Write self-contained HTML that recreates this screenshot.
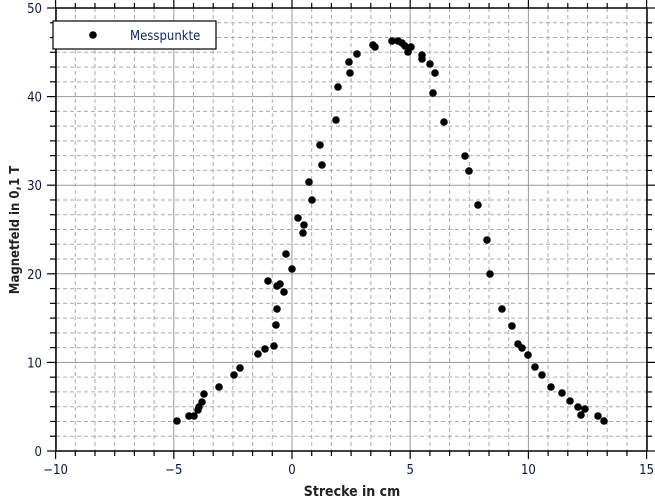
<!DOCTYPE html>
<html><head><meta charset="utf-8"><style>
body{margin:0;background:#fff}
svg{display:block;font-family:"DejaVu Sans Condensed","DejaVu Sans","Liberation Sans",sans-serif}
</style></head><body>
<svg width="655" height="499" viewBox="0 0 655 499" xmlns="http://www.w3.org/2000/svg">
<g id="grid"></g>
<rect x="56" y="8" width="591" height="443" fill="none" stroke="#000" stroke-width="1.5"/>
<g id="ticks" stroke="#000" stroke-width="1.2"></g>
<g id="labels" font-size="13" fill="#0a1a3a"></g>
<rect x="53" y="21" width="163" height="28" fill="#fff" stroke="#000" stroke-width="1.2"/>
<circle cx="93" cy="35" r="3.8" fill="#000"/>
<text x="130" y="40" font-size="13" fill="#0a2a5a">Messpunkte</text>
<g id="pts" fill="#000"></g>
<text x="352" y="496" font-size="14" font-weight="bold" text-anchor="middle" fill="#222">Strecke in cm</text>
<text transform="translate(19,230) rotate(-90)" font-size="13" font-weight="bold" text-anchor="middle" fill="#222">Magnetfeld in 0,1 T</text>
</svg>
<script>
const ns="http://www.w3.org/2000/svg";
function el(p,t,a,txt){const e=document.createElementNS(ns,t);for(const k in a)e.setAttribute(k,a[k]);if(txt!==undefined)e.textContent=txt;document.getElementById(p).appendChild(e);}
const X=v=>292+v*23.64, Y=v=>451-v*8.86;
for(let i=0;i<=30;i++){const v=-10+i*5/6,x=X(v);const maj=i%6==0;
 el("grid","line",{x1:x,y1:8,x2:x,y2:451,stroke:maj?"#999":"#aaa","stroke-dasharray":maj?"":"4,3","stroke-width":1});
 el("ticks","line",{x1:x,y1:451,x2:x,y2:maj?459:456});
 el("ticks","line",{x1:x,y1:8,x2:x,y2:maj?0:3});
 if(maj)el("labels","text",{x:x,y:474,"text-anchor":"middle"},String(v).replace("-","\u2212"));}
for(let i=0;i<=30;i++){const v=i*10/6,y=Y(v);const maj=i%6==0;
 el("grid","line",{x1:56,y1:y,x2:647,y2:y,stroke:maj?"#999":"#aaa","stroke-dasharray":maj?"":"4,3","stroke-width":1});
 el("ticks","line",{x1:56,y1:y,x2:maj?47:50,y2:y});
 el("ticks","line",{x1:647,y1:y,x2:maj?655:652,y2:y});
 if(maj)el("labels","text",{x:42,y:y+5,"text-anchor":"end"},String(Math.round(v)));}
const P=[[177,421],[189,416],[194,416],[198,410],[199,407],[202,402],[204,394],[219,387],[234,375],[240,368],[258,354],[265,349],[268,281],[274,346],[276,325],[277,286],[277,309],[280,284],[284,292],[286,254],[292,269],[298,218],[303,233],[304,225],[309,182],[312,200],[320,145],[322,165],[336,120],[338,87],[349,62],[350,73],[357,54],[373,45],[375,47],[392,41],[398,41],[402,43],[405,46],[408,52],[411,47],[422,55],[422,59],[430,64],[433,93],[435,73],[444,122],[465,156],[469,171],[478,205],[487,240],[490,274],[502,309],[512,326],[518,344],[522,348],[528,355],[535,367],[542,375],[551,387],[562,393],[570,401],[578,407],[581,415],[585,409],[598,416],[604,421]];
P.forEach(p=>el("pts","circle",{cx:p[0],cy:p[1],r:3.8}));
</script>
</body></html>
